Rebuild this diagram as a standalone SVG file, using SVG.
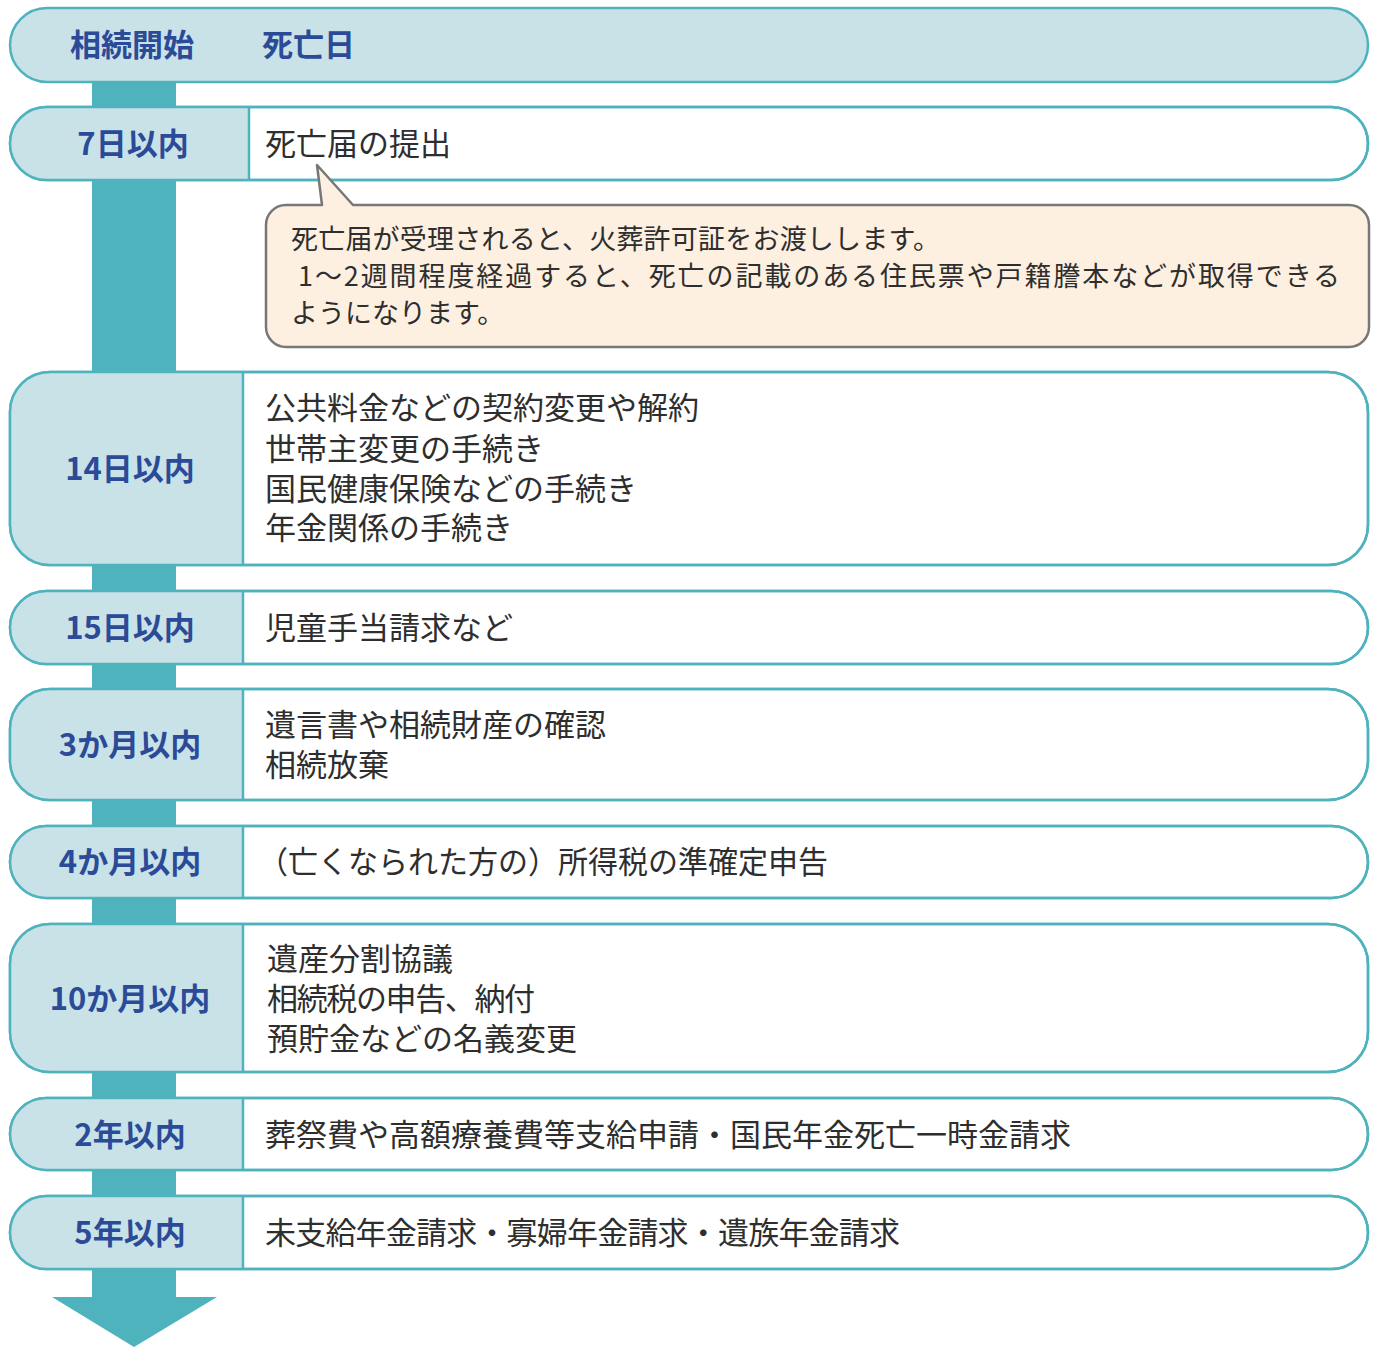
<svg xmlns="http://www.w3.org/2000/svg" width="1376" height="1347" viewBox="0 0 1376 1347">
<style>
.box{fill:#ffffff;stroke:#4fb3be;stroke-width:2.5}
.outline{fill:none;stroke:#4fb3be;stroke-width:2.5}
.cell{fill:#c8e2e8}
.div{stroke:#4fb3be;stroke-width:2.5}
.lbl{font-family:"Noto Sans CJK JP","Noto Sans",sans-serif;font-size:31px;font-weight:bold;fill:#2b4a97;text-anchor:middle}
.ttl{font-family:"Noto Sans CJK JP","Noto Sans",sans-serif;font-size:31px;font-weight:bold;fill:#2b4a97}
.txt{font-family:"Noto Sans CJK JP","Noto Sans",sans-serif;font-size:31px;fill:#2e2e2e}
.note{font-family:"Noto Sans CJK JP","Noto Sans",sans-serif;font-size:27px;fill:#2e2e2e}
.trunk{fill:#4fb3be}
</style>
<g id="connectors">
<rect class="trunk" x="92" y="80" width="84" height="1218"/>
<polygon class="trunk" points="52,1297 217,1297 134,1347"/>
</g>
<g id="start">
<rect x="10" y="8" width="1358" height="74" rx="37" fill="#c8e2e8" stroke="#4fb3be" stroke-width="2.5"/>
<text class="ttl" x="70" y="56">相続開始</text>
<text class="ttl" x="262" y="56">死亡日</text>
</g>
<g id="r7">
<rect class="box" x="10" y="107" width="1358" height="73" rx="36.5"/>
<path class="cell" d="M46.5,107 H249 V180 H46.5 A36.5,36.5 0 0 1 46.5,107 Z"/>
<rect class="outline" x="10" y="107" width="1358" height="73" rx="36.5"/>
<line class="div" x1="249" y1="107" x2="249" y2="180"/>
<text class="lbl" x="133" y="155">7日以内</text>
<text class="txt" x="265" y="155">死亡届の提出</text>
</g>
<g id="note">
<path d="M286,205 H322 L317,165 L353,205 H1349 A20,20 0 0 1 1369,225 V327 A20,20 0 0 1 1349,347 H286 A20,20 0 0 1 266,327 V225 A20,20 0 0 1 286,205 Z" fill="#fdf0e1" stroke="#777777" stroke-width="2.5" stroke-linejoin="round"/>
<text class="note" x="291" y="249" textLength="649" lengthAdjust="spacing">死亡届が受理されると、火葬許可証をお渡しします。</text>
<text class="note" x="298" y="286" textLength="1042" lengthAdjust="spacing">1～2週間程度経過すると、死亡の記載のある住民票や戸籍謄本などが取得できる</text>
<text class="note" x="291" y="323">ようになります。</text>
</g>
<g id="r14">
<rect class="box" x="10" y="372" width="1358" height="193" rx="40"/>
<path class="cell" d="M50,372 H243 V565 H50 A40,40 0 0 1 10,525 V412 A40,40 0 0 1 50,372 Z"/>
<rect class="outline" x="10" y="372" width="1358" height="193" rx="40"/>
<line class="div" x1="243" y1="372" x2="243" y2="565"/>
<text class="lbl" x="130" y="480">14日以内</text>
<text class="txt" x="265" y="419">公共料金などの契約変更や解約</text>
<text class="txt" x="265" y="460">世帯主変更の手続き</text>
<text class="txt" x="265" y="500">国民健康保険などの手続き</text>
<text class="txt" x="265" y="539">年金関係の手続き</text>
</g>
<g id="r15">
<rect class="box" x="10" y="591" width="1358" height="73" rx="36.5"/>
<path class="cell" d="M46.5,591 H243 V664 H46.5 A36.5,36.5 0 0 1 46.5,591 Z"/>
<rect class="outline" x="10" y="591" width="1358" height="73" rx="36.5"/>
<line class="div" x1="243" y1="591" x2="243" y2="664"/>
<text class="lbl" x="130" y="639">15日以内</text>
<text class="txt" x="265" y="639">児童手当請求など</text>
</g>
<g id="r3m">
<rect class="box" x="10" y="689" width="1358" height="111" rx="40"/>
<path class="cell" d="M50,689 H243 V800 H50 A40,40 0 0 1 10,760 V729 A40,40 0 0 1 50,689 Z"/>
<rect class="outline" x="10" y="689" width="1358" height="111" rx="40"/>
<line class="div" x1="243" y1="689" x2="243" y2="800"/>
<text class="lbl" x="130" y="756">3か月以内</text>
<text class="txt" x="265" y="736">遺言書や相続財産の確認</text>
<text class="txt" x="265" y="776">相続放棄</text>
</g>
<g id="r4m">
<rect class="box" x="10" y="826" width="1358" height="72" rx="36"/>
<path class="cell" d="M46,826 H243 V898 H46 A36,36 0 0 1 46,826 Z"/>
<rect class="outline" x="10" y="826" width="1358" height="72" rx="36"/>
<line class="div" x1="243" y1="826" x2="243" y2="898"/>
<text class="lbl" x="130" y="873">4か月以内</text>
<text class="txt" x="258" y="873" textLength="570" lengthAdjust="spacingAndGlyphs">（亡くなられた方の）所得税の準確定申告</text>
</g>
<g id="r10m">
<rect class="box" x="10" y="924" width="1358" height="148" rx="40"/>
<path class="cell" d="M50,924 H243 V1072 H50 A40,40 0 0 1 10,1032 V964 A40,40 0 0 1 50,924 Z"/>
<rect class="outline" x="10" y="924" width="1358" height="148" rx="40"/>
<line class="div" x1="243" y1="924" x2="243" y2="1072"/>
<text class="lbl" x="130" y="1010">10か月以内</text>
<text class="txt" x="267" y="970">遺産分割協議</text>
<text class="txt" x="267" y="1010" textLength="268" lengthAdjust="spacing">相続税の申告、納付</text>
<text class="txt" x="267" y="1050">預貯金などの名義変更</text>
</g>
<g id="r2y">
<rect class="box" x="10" y="1098" width="1358" height="72" rx="36"/>
<path class="cell" d="M46,1098 H243 V1170 H46 A36,36 0 0 1 46,1098 Z"/>
<rect class="outline" x="10" y="1098" width="1358" height="72" rx="36"/>
<line class="div" x1="243" y1="1098" x2="243" y2="1170"/>
<text class="lbl" x="130" y="1146">2年以内</text>
<text class="txt" x="265" y="1146">葬祭費や高額療養費等支給申請・国民年金死亡一時金請求</text>
</g>
<g id="r5y">
<rect class="box" x="10" y="1196" width="1358" height="73" rx="36.5"/>
<path class="cell" d="M46.5,1196 H243 V1269 H46.5 A36.5,36.5 0 0 1 46.5,1196 Z"/>
<rect class="outline" x="10" y="1196" width="1358" height="73" rx="36.5"/>
<line class="div" x1="243" y1="1196" x2="243" y2="1269"/>
<text class="lbl" x="130" y="1244">5年以内</text>
<text class="txt" x="265" y="1244" textLength="635" lengthAdjust="spacing">未支給年金請求・寡婦年金請求・遺族年金請求</text>
</g>
</svg>
